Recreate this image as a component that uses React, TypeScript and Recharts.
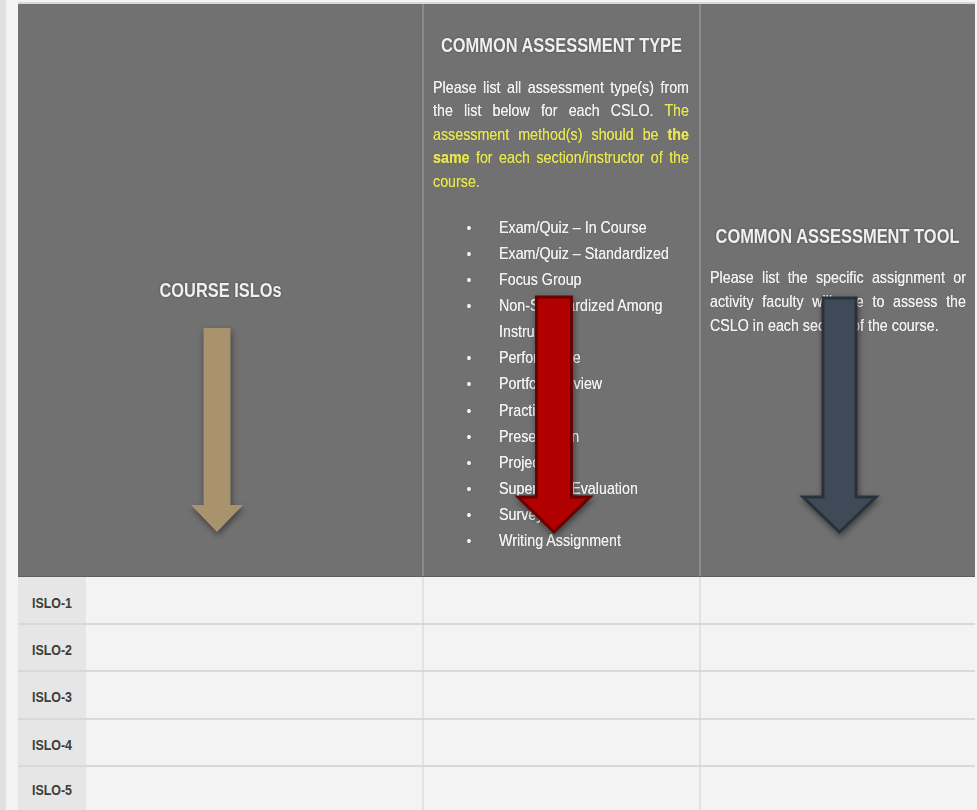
import React from 'react';
import { ComposedChart, XAxis, YAxis, ReferenceArea } from 'recharts';

// ---------- content ----------
const columnTitles = ['COURSE ISLOs', 'COMMON ASSESSMENT TYPE', 'COMMON ASSESSMENT TOOL'];
const rowLabels = ['ISLO-1', 'ISLO-2', 'ISLO-3', 'ISLO-4', 'ISLO-5'];
const typeInstructions = [
  { text: 'Please list all assessment type(s) from the list below for each CSLO. ', tone: 'plain' },
  { text: 'The assessment method(s) should be ', tone: 'highlight' },
  { text: 'the same', tone: 'strong' },
  { text: ' for each section/instructor of the course.', tone: 'highlight' },
];
const assessmentTypes = [
  'Exam/Quiz – In Course',
  'Exam/Quiz – Standardized',
  'Focus Group',
  'Non-Standardized Among Instructors',
  'Performance',
  'Portfolio Review',
  'Practicum',
  'Presentation',
  'Project',
  'Supervisor Evaluation',
  'Survey',
  'Writing Assignment',
];
const toolInstructions =
  'Please list the specific assignment or activity faculty will use to assess the CSLO in each section of the course.';

// ---------- layout (separate from content) ----------
const W = 977;
const H = 810;
const COL_EDGES = [18, 86, 423, 700, 975];
const HEADER_TOP = 4;
const ROW_EDGES = [577, 624, 671, 719, 766, 810];
const TITLE_LAYOUT = [
  { baseline: 297, length: 122 },
  { baseline: 52, length: 241 },
  { baseline: 243, length: 244 },
];
const ARROWS = [
  { x1: 191, x2: 243, y1: 328, y2: 532, shaft: 27, head: 27, fill: '#a9936f', stroke: 'none', sw: 0 },
  { x1: 518, x2: 590, y1: 297, y2: 532, shaft: 35, head: 35, fill: '#b00000', stroke: '#6a0000', sw: 3 },
  { x1: 803, x2: 876, y1: 298, y2: 532, shaft: 33, head: 35, fill: '#3e4a57', stroke: '#29323c', sw: 3 },
];

const FONT = "'Liberation Sans', Arial, Helvetica, sans-serif";
const SQUEEZE = 0.84;
const HEADER_BG = '#717171';
const TEXT_WHITE = '#f0f0f0';
const TEXT_YELLOW = '#e6e452';

function Title({ cx, baseline, length, text }: any) {
  return (
    <text
      x={cx}
      y={baseline}
      textAnchor="middle"
      textLength={length}
      lengthAdjust="spacingAndGlyphs"
      fontFamily={FONT}
      fontWeight={700}
      fontSize={20}
      fill={TEXT_WHITE}
      style={{ filter: 'drop-shadow(0px 0px 1px rgba(0,0,0,0.35))' }}
    >
      {text}
    </text>
  );
}

function Squeezed({ x, y, width, height, children }: any) {
  return (
    <foreignObject x={x} y={y} width={width} height={height}>
      <div
        style={{
          width: width / SQUEEZE,
          transform: `scaleX(${SQUEEZE})`,
          transformOrigin: '0 0',
          fontFamily: FONT,
          color: TEXT_WHITE,
          textShadow: '0 0 0.6px currentColor, 0 0 1px rgba(0,0,0,0.25)',
        }}
      >
        {children}
      </div>
    </foreignObject>
  );
}

function HeaderCell(props: any) {
  const { x, y, width, height, col } = props;
  const cx = x + width / 2;
  return (
    <g>
      <rect x={x} y={y} width={width} height={height} fill={HEADER_BG} />
      <Title cx={cx} baseline={TITLE_LAYOUT[col].baseline} length={TITLE_LAYOUT[col].length} text={columnTitles[col]} />
      {col === 1 && (
        <>
          <Squeezed x={x + 10} y={75.5} width={256} height={125}>
            <div style={{ fontSize: 17, lineHeight: '23.5px', textAlign: 'justify' }}>
              {typeInstructions.map((s, i) => (
                <span
                  key={i}
                  style={{
                    color: s.tone === 'plain' ? TEXT_WHITE : TEXT_YELLOW,
                    fontWeight: s.tone === 'strong' ? 700 : 400,
                  }}
                >
                  {s.text}
                </span>
              ))}
            </div>
          </Squeezed>
          <Squeezed x={x + 37} y={215} width={222} height={345}>
            <div style={{ fontSize: 17, lineHeight: '26.08px' }}>
              {assessmentTypes.map((t, i) => (
                <div key={i} style={{ position: 'relative', paddingLeft: 46.4 }}>
                  <span style={{ position: 'absolute', left: 8, top: 0, fontSize: 15 }}>•</span>
                  {t}
                </div>
              ))}
            </div>
          </Squeezed>
        </>
      )}
      {col === 2 && (
        <Squeezed x={x + 10} y={266} width={256} height={80}>
          <div style={{ fontSize: 17, lineHeight: '24px', textAlign: 'justify' }}>{toolInstructions}</div>
        </Squeezed>
      )}
    </g>
  );
}

function RowLabelCell(props: any) {
  const { x, y, width, height, label } = props;
  return (
    <g>
      <rect x={x} y={y} width={width} height={height} fill="#e6e6e6" />
      <text
        x={x + width / 2}
        y={y + height / 2 + 7}
        textAnchor="middle"
        textLength={40}
        lengthAdjust="spacingAndGlyphs"
        fontFamily={FONT}
        fontWeight={700}
        fontSize={15}
        fill="#3c3c3c"
      >
        {label}
      </text>
    </g>
  );
}

function ArrowShape(props: any) {
  const { x, y, width, height, a } = props;
  const cx = x + width / 2;
  const hb = y + height - a.head;
  const pts = [
    [cx - a.shaft / 2, y],
    [cx + a.shaft / 2, y],
    [cx + a.shaft / 2, hb],
    [x + width, hb],
    [cx, y + height],
    [x, hb],
    [cx - a.shaft / 2, hb],
  ]
    .map((p) => p.join(','))
    .join(' ');
  return (
    <polygon
      points={pts}
      fill={a.fill}
      stroke={a.stroke}
      strokeWidth={a.sw}
      strokeLinejoin="miter"
      style={{ filter: 'drop-shadow(1px 3px 3px rgba(0,0,0,0.45))' }}
    />
  );
}

const bounds = [
  { x: 0, y: 0 },
  { x: W, y: H },
];

export default function App() {
  const headerSpans = [
    [COL_EDGES[0], COL_EDGES[2]],
    [COL_EDGES[2], COL_EDGES[3]],
    [COL_EDGES[3], COL_EDGES[4]],
  ];
  return (
    <div style={{ width: W, height: H, background: '#f3f3f3' }}>
      <style>{`body{margin:0;}`}</style>
      <ComposedChart width={W} height={H} data={bounds} margin={{ top: 0, right: 0, bottom: 0, left: 0 }}>
        <XAxis dataKey="x" type="number" domain={[0, W]} hide allowDataOverflow />
        <YAxis dataKey="y" type="number" domain={[0, H]} reversed hide allowDataOverflow width={0} />

        {/* page background */}
        <ReferenceArea x1={0} x2={W} y1={0} y2={H} fill="#f3f3f3" fillOpacity={1} stroke="none" ifOverflow="visible" />
        <ReferenceArea x1={0} x2={6} y1={0} y2={H} fill="#e0e0e2" fillOpacity={1} stroke="none" ifOverflow="visible" />
        <ReferenceArea x1={COL_EDGES[0]} x2={COL_EDGES[4]} y1={2} y2={HEADER_TOP} fill="#d8d8d8" fillOpacity={1} stroke="none" />

        {/* header cells */}
        {headerSpans.map(([a, b], i) => (
          <ReferenceArea
            key={`h${i}`}
            x1={a}
            x2={b}
            y1={HEADER_TOP}
            y2={ROW_EDGES[0]}
            shape={(p: any) => <HeaderCell {...p} col={i} />}
          />
        ))}
        {[COL_EDGES[2], COL_EDGES[3]].map((e, i) => (
          <ReferenceArea key={`hd${i}`} x1={e - 0.5} x2={e + 0.5} y1={HEADER_TOP} y2={ROW_EDGES[0]} fill="#a6a6a6" fillOpacity={1} stroke="none" />
        ))}
        <ReferenceArea x1={COL_EDGES[0]} x2={COL_EDGES[4]} y1={ROW_EDGES[0] - 1} y2={ROW_EDGES[0]} fill="#5e5e5e" fillOpacity={1} stroke="none" />

        {/* body rows */}
        {rowLabels.map((label, r) => (
          <ReferenceArea
            key={`r${r}`}
            x1={COL_EDGES[0]}
            x2={COL_EDGES[1]}
            y1={ROW_EDGES[r]}
            y2={ROW_EDGES[r + 1]}
            shape={(p: any) => <RowLabelCell {...p} label={label} />}
          />
        ))}
        {rowLabels.map((_, r) => (
          <ReferenceArea key={`c${r}`} x1={COL_EDGES[1]} x2={COL_EDGES[4]} y1={ROW_EDGES[r]} y2={ROW_EDGES[r + 1]} fill="#f3f3f3" fillOpacity={1} stroke="none" />
        ))}
        {rowLabels.slice(1).map((_, r) => (
          <ReferenceArea key={`s${r}`} x1={COL_EDGES[0]} x2={COL_EDGES[4]} y1={ROW_EDGES[r + 1] - 1} y2={ROW_EDGES[r + 1] + 1} fill="#d9d9d9" fillOpacity={1} stroke="none" />
        ))}
        {[COL_EDGES[2], COL_EDGES[3]].map((e, i) => (
          <ReferenceArea key={`bd${i}`} x1={e - 0.5} x2={e + 0.5} y1={ROW_EDGES[0]} y2={H} fill="#d2d2d2" fillOpacity={1} stroke="none" />
        ))}

        {/* arrows */}
        {ARROWS.map((a, i) => (
          <ReferenceArea key={`a${i}`} x1={a.x1} x2={a.x2} y1={a.y1} y2={a.y2} shape={(p: any) => <ArrowShape {...p} a={a} />} />
        ))}
      </ComposedChart>
    </div>
  );
}
